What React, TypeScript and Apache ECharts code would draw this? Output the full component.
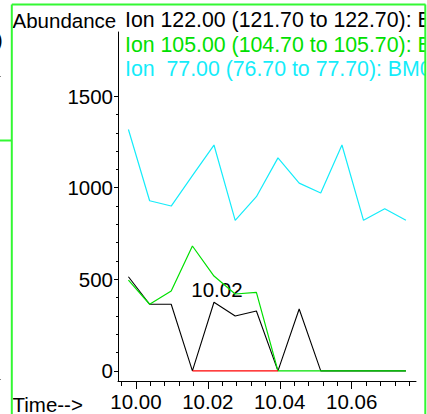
import React, { useEffect, useRef } from "react";
import * as echarts from "echarts";

// Retention time (min) of each scan
const times = [9.9979, 10.0038, 10.0098, 10.0157, 10.0217, 10.0276, 10.0335, 10.0395, 10.0454, 10.0514, 10.0573, 10.0633, 10.0692, 10.0751];
// Abundance per ion
const ion122 = [514, 364, 364, 0, 375, 300, 327, 0, 338, 0, 0, 0, 0, 0];
const ion105 = [496, 364, 436, 682, 518, 420, 429, 0, 0, 0, 0, 0, 0, 0];
const ion77 = [1318, 929, 900, 1066, 1233, 822, 951, 1163, 1025, 971, 1233, 822, 885, 822];
// Integration baseline (red)
const baselineTimes = [10.0157, 10.0395];
const baselineValues = [0, 0];
// Peak annotation
const peakLabel = "10.02";
const peakIndex = 4;

const xMajorTicks = [10.0, 10.02, 10.04, 10.06];
const xMinorTicks = [9.996, 10.0, 10.004, 10.008, 10.012, 10.016, 10.02, 10.024, 10.028, 10.032, 10.036, 10.04, 10.044, 10.048, 10.052, 10.056, 10.06, 10.064, 10.068, 10.072, 10.076];
const yMajorTicks = [0, 500, 1000, 1500];
const yMinorTicks = [0, 100, 200, 300, 400, 500, 600, 700, 800, 900, 1000, 1100, 1200, 1300, 1400, 1500];

const yTitle = "Abundance";
const xTitle = "Time-->";
const titleLines = [
  "Ion 122.00 (121.70 to 122.70): BM01.D\\data.ms",
  "Ion 105.00 (104.70 to 105.70): BM01.D\\data.ms",
  "Ion  77.00 (76.70 to 77.70): BM01.D\\data.ms",
];

const FONT = '"Liberation Sans", Arial, sans-serif';
const BLACK = "#000000";
const GREEN = "#00e000";
const CYAN = "#14ecfa";
const RED = "#ff0000";
const FRAME = "#33f833";

export default function App() {
  const ref = useRef<HTMLDivElement>(null);
  useEffect(() => {
    if (!ref.current) return;
    const chart = echarts.init(ref.current, undefined, { renderer: "svg" });
    const pairs = (vals: number[]) => vals.map((v, i) => [times[i], v]);
    const xBase = { type: "value", gridIndex: 0, min: 9.995, max: 10.0779, position: "bottom", splitLine: { show: false } };
    const yBase = { type: "value", gridIndex: 0, min: -55, max: 1850, position: "left", splitLine: { show: false } };
    chart.setOption({
      animation: false,
      backgroundColor: "#ffffff",
      grid: { left: 118, top: 32, width: 298, height: 349, containLabel: false },
      xAxis: [
        {
          ...xBase,
          axisLine: { show: true, onZero: false, lineStyle: { color: BLACK, width: 1 } },
          axisTick: { show: true, length: 8, customValues: xMajorTicks, lineStyle: { color: BLACK } },
          axisLabel: {
            show: true, customValues: xMajorTicks, margin: 10, color: BLACK, fontSize: 20.5, fontFamily: FONT,
            formatter: (v: number) => v.toFixed(2),
          },
        },
        {
          ...xBase,
          axisLine: { show: false, onZero: false },
          axisTick: { show: true, length: 5, customValues: xMinorTicks, lineStyle: { color: BLACK } },
          axisLabel: { show: false },
        },
      ],
      yAxis: [
        {
          ...yBase,
          axisLine: { show: true, onZero: false, lineStyle: { color: BLACK, width: 1 } },
          axisTick: { show: true, length: 4, customValues: yMajorTicks, lineStyle: { color: BLACK } },
          axisLabel: {
            show: true, customValues: yMajorTicks, margin: 5, color: BLACK, fontSize: 20.5, fontFamily: FONT,
            formatter: (v: number) => String(v),
          },
        },
        {
          ...yBase,
          axisLine: { show: false, onZero: false },
          axisTick: { show: true, length: 2, customValues: yMinorTicks, lineStyle: { color: BLACK } },
          axisLabel: { show: false },
        },
      ],
      series: [
        { type: "line", name: "Ion 77", data: pairs(ion77), showSymbol: false, lineStyle: { color: CYAN, width: 1.2 }, itemStyle: { color: CYAN } },
        { type: "line", name: "Ion 122", data: pairs(ion122), showSymbol: false, lineStyle: { color: BLACK, width: 1.1 }, itemStyle: { color: BLACK } },
        { type: "line", name: "Ion 105", data: pairs(ion105), showSymbol: false, lineStyle: { color: GREEN, width: 1.2 }, itemStyle: { color: GREEN } },
        {
          type: "line", name: "Baseline", data: baselineTimes.map((t, i) => [t, baselineValues[i]]),
          showSymbol: false, lineStyle: { color: RED, width: 1.2 }, itemStyle: { color: RED },
        },
        {
          type: "scatter", name: "Peak", data: [[times[peakIndex], ion122[peakIndex]]], symbolSize: 0,
          itemStyle: { color: BLACK },
          label: {
            show: true, position: "top", distance: 2, offset: [3, 0], formatter: peakLabel,
            color: BLACK, opacity: 1, fontSize: 20.5, fontFamily: FONT,
          },
        },
      ],
      graphic: [
        { type: "text", x: 12.5, y: 20, style: { text: yTitle, fill: BLACK, fontSize: 20.5, fontFamily: FONT, verticalAlign: "middle" } },
        { type: "text", x: 12.5, y: 404, style: { text: xTitle, fill: BLACK, fontSize: 20.5, fontFamily: FONT, verticalAlign: "middle" } },
        { type: "text", x: 125, y: 20, style: { text: titleLines[0], fill: BLACK, fontSize: 21.3, fontFamily: FONT, verticalAlign: "middle" } },
        { type: "text", x: 125, y: 45, style: { text: titleLines[1], fill: GREEN, fontSize: 21.3, fontFamily: FONT, verticalAlign: "middle" } },
        { type: "text", x: 125, y: 68.5, style: { text: titleLines[2], fill: CYAN, fontSize: 21.3, fontFamily: FONT, verticalAlign: "middle" } },
        // neighbouring window fragments on the left
        { type: "text", x: -4, y: 40, style: { text: ")", fill: BLACK, fontSize: 20, fontFamily: FONT, verticalAlign: "middle" } },
        { type: "rect", shape: { x: 0, y: 76, width: 1, height: 1 }, style: { fill: "#888" } },
        { type: "rect", shape: { x: 0, y: 379, width: 1, height: 1 }, style: { fill: "#888" } },
        // window frame
        { type: "rect", z: 100, shape: { x: 426, y: 0, width: 2, height: 414 }, style: { fill: "#ffffff" } },
        { type: "line", z: 101, shape: { x1: 0, y1: 140.5, x2: 12, y2: 140.5 }, style: { stroke: FRAME, lineWidth: 2 } },
        { type: "line", z: 101, shape: { x1: 11.8, y1: 4.5, x2: 425.5, y2: 4.5 }, style: { stroke: FRAME, lineWidth: 2 } },
        { type: "line", z: 101, shape: { x1: 11.8, y1: 4.5, x2: 11.8, y2: 414 }, style: { stroke: FRAME, lineWidth: 2 } },
        { type: "line", z: 101, shape: { x1: 425.3, y1: 4.5, x2: 425.3, y2: 414 }, style: { stroke: FRAME, lineWidth: 2 } },
      ],
    });
    return () => chart.dispose();
  }, []);
  return <div ref={ref} style={{ position: "absolute", left: 0, top: 0, width: 427, height: 414, overflow: "hidden" }} />;
}
